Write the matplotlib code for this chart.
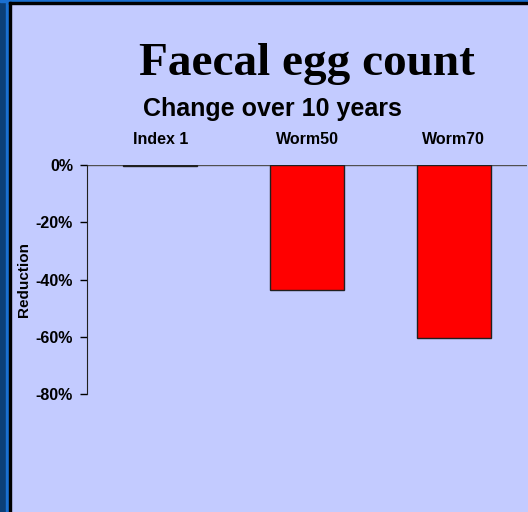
import matplotlib.pyplot as plt
from matplotlib.patches import Rectangle
from matplotlib.ticker import PercentFormatter

plt.rcParams['axes.unicode_minus'] = False

# chart data
categories = ['Index 1', 'Worm50', 'Worm70']
reduction = [-0.5, -43.6, -60.3]
y_ticks = [0, -20, -40, -60, -80]

bg = '#c3cbff'
W, H = 528, 512

fig = plt.figure(figsize=(W / 100, H / 100), dpi=100, facecolor=bg)

# slide frame: dark blue strip on the left and top, with a black rule
fig.patches.append(Rectangle((0, 0), 6 / W, 1, transform=fig.transFigure, color='#0b3f78', zorder=0))
fig.patches.append(Rectangle((6 / W, 0), 3 / W, 1, transform=fig.transFigure, color='#1a6fd0', zorder=0))
fig.patches.append(Rectangle((9 / W, 0), 2 / W, 1 - 2 / H, transform=fig.transFigure, color='black', zorder=1))
fig.patches.append(Rectangle((0, 1 - 2 / H), 1, 2 / H, transform=fig.transFigure, color='#1a6fd0', zorder=0))
fig.patches.append(Rectangle((9 / W, 1 - 4 / H), 1, 2 / H, transform=fig.transFigure, color='black', zorder=1))

# axes: left edge at x=87px, right at 527px; 0% at y=165, -80% at y=394
ax = fig.add_axes([87 / W, 1 - 394 / H, 440 / W, 229 / H])
ax.set_facecolor(bg)
ax.bar(range(len(categories)), reduction, width=0.505, color='red', edgecolor='#202020', linewidth=1.0, zorder=3)
ax.axhline(0, color='#505050', linewidth=1.0, zorder=2)

ax.set_xlim(-0.5, 2.5)
ax.set_ylim(-80, 0)
ax.set_yticks(y_ticks)
ax.yaxis.set_major_formatter(PercentFormatter(decimals=0))
ax.tick_params(axis='y', length=5, width=1, pad=5, labelsize=11.5)
for lbl in ax.get_yticklabels():
    lbl.set_fontweight('bold')
    lbl.set_family('Liberation Sans')

ax.xaxis.tick_top()
ax.set_xticks(range(len(categories)))
ax.set_xticklabels(categories, fontsize=11.5, fontweight='bold', family='Liberation Sans')
ax.tick_params(axis='x', length=0, pad=13)

for side in ['top', 'right', 'bottom']:
    ax.spines[side].set_visible(False)
ax.spines['left'].set_color('#202020')

ax.set_ylabel('Reduction', fontsize=11, fontweight='bold', family='Liberation Sans')
ax.yaxis.set_label_coords(-0.127, 0.5)

fig.text(307 / W, 1 - 64 / H, 'Faecal egg count', ha='center', va='center',
         fontsize=34, fontweight='bold', family='Liberation Serif')
fig.text(272 / W, 1 - 109 / H, 'Change over 10 years', ha='center', va='center',
         fontsize=18, fontweight='bold', family='Liberation Sans')

fig.savefig('out.png', dpi=100, facecolor=bg)
